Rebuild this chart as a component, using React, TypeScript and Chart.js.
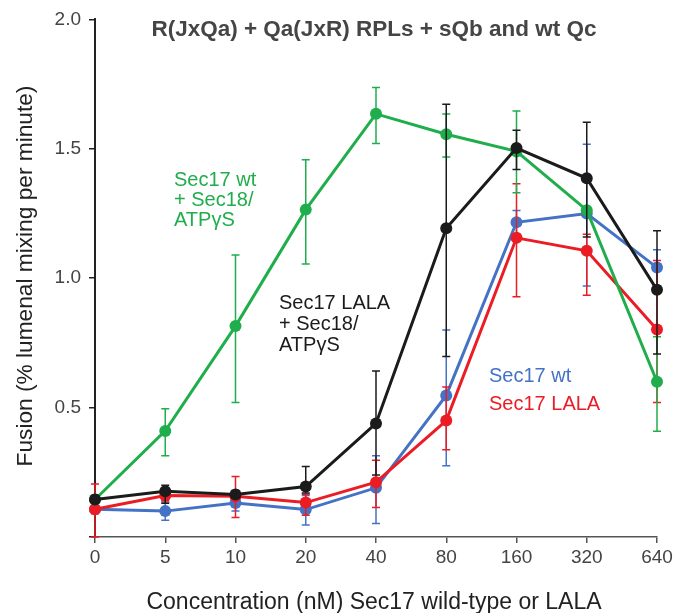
import React, { useEffect, useRef } from 'react';
import { Chart, registerables } from 'chart.js';

Chart.register(...registerables);

const categories = ['0', '5', '10', '20', '40', '80', '160', '320', '640'];

const greenValues = [0.145, 0.41, 0.815, 1.265, 1.635, 1.556, 1.49, 1.263, 0.6];
const greenHigh = [0.145, 0.496, 1.09, 1.458, 1.737, 1.634, 1.646, 1.263, 0.774];
const greenLow = [0.145, 0.314, 0.52, 1.055, 1.52, 1.468, 1.33, 1.263, 0.409];

const blackValues = [0.145, 0.177, 0.164, 0.195, 0.439, 1.193, 1.503, 1.386, 0.955];
const blackHigh = [0.16, 0.2, 0.18, 0.272, 0.641, 1.672, 1.572, 1.603, 1.183];
const blackLow = [0.13, 0.13, 0.15, 0.17, 0.24, 0.697, 1.42, 1.159, 0.707];

const blueValues = [0.107, 0.1, 0.131, 0.106, 0.19, 0.547, 1.216, 1.25, 1.041];
const blueHigh = [0.12, 0.135, 0.155, 0.16, 0.314, 0.8, 1.262, 1.518, 1.11];
const blueLow = [0.09, 0.065, 0.1, 0.046, 0.052, 0.275, 1.17, 0.97, 0.97];

const redValues = [0.107, 0.16, 0.157, 0.133, 0.212, 0.45, 1.156, 1.106, 0.802];
const redHigh = [0.205, 0.18, 0.234, 0.165, 0.297, 0.58, 1.365, 1.17, 1.068];
const redLow = [0.0, 0.14, 0.075, 0.084, 0.114, 0.337, 0.928, 0.934, 0.52];

const GREEN = '#1fae4b';
const BLACK = '#1b1b1b';
const BLUE = '#4472c4';
const RED = '#ec1c24';

const titleText = 'R(JxQa) + Qa(JxR) RPLs + sQb and wt Qc';
const xTitle = 'Concentration (nM) Sec17 wild-type or LALA';
const yTitle = 'Fusion (% lumenal mixing per minute)';

const FONT = '"Liberation Sans", Arial, Helvetica, sans-serif';

export default function App() {
  const ref = useRef<HTMLCanvasElement>(null);

  useEffect(() => {
    const canvas = ref.current;
    if (!canvas) return;

    const errorBars = {
      id: 'errorBars',
      beforeDatasetDraw(chart: any, args: any) {
        const ds = chart.data.datasets[args.index];
        if (!ds.errHigh) return;
        const meta = chart.getDatasetMeta(args.index);
        const y = chart.scales.y;
        const c = chart.ctx;
        c.save();
        c.strokeStyle = ds.errColor || ds.borderColor;
        c.lineWidth = 1.5;
        meta.data.forEach((pt: any, i: number) => {
          const hi = ds.errHigh[i];
          const lo = ds.errLow[i];
          if (hi === lo) return;
          const yh = y.getPixelForValue(hi);
          const yl = y.getPixelForValue(lo);
          const x = pt.x;
          c.beginPath();
          c.moveTo(x, yh);
          c.lineTo(x, yl);
          c.moveTo(x - 4, yh);
          c.lineTo(x + 4, yh);
          c.moveTo(x - 4, yl);
          c.lineTo(x + 4, yl);
          c.stroke();
        });
        c.restore();
      },
    };

    const texts = {
      id: 'texts',
      afterDraw(chart: any) {
        const c = chart.ctx;
        c.save();
        c.textBaseline = 'alphabetic';
        c.fillStyle = '#454545';
        c.font = `bold 22.5px ${FONT}`;
        c.textAlign = 'center';
        c.fillText(titleText, 374, 36);

        c.fillStyle = '#222';
        c.font = `23px ${FONT}`;
        c.fillText(xTitle, 374, 609);

        c.save();
        c.translate(32, 276);
        c.rotate(-Math.PI / 2);
        c.font = `22.7px ${FONT}`;
        c.fillText(yTitle, 0, 0);
        c.restore();

        c.textAlign = 'left';
        c.font = `20px ${FONT}`;
        c.fillStyle = GREEN;
        c.fillText('Sec17 wt', 174, 186);
        c.fillText('+ Sec18/', 174, 206);
        c.fillText('ATP\u03b3S', 174, 226);

        c.fillStyle = BLACK;
        c.fillText('Sec17 LALA', 279, 309);
        c.fillText('+ Sec18/', 279, 330);
        c.fillText('ATP\u03b3S', 279, 351);

        c.fillStyle = BLUE;
        c.fillText('Sec17 wt', 489, 382);
        c.fillStyle = RED;
        c.fillText('Sec17 LALA', 489, 410);
        c.restore();
      },
    };

    const mk = (label: string, data: number[], hi: number[], lo: number[], color: string, order: number) => ({
      label,
      data,
      errHigh: hi,
      errLow: lo,
      borderColor: color,
      backgroundColor: color,
      pointBackgroundColor: color,
      pointBorderColor: color,
      pointRadius: 6,
      pointBorderWidth: 0,
      borderWidth: 3,
      tension: 0,
      order,
    });

    const chart = new Chart(canvas, {
      type: 'line',
      data: {
        labels: categories,
        datasets: [
          mk('Sec17 wt', blueValues, blueHigh, blueLow, BLUE, 4),
          mk('Sec17 LALA', redValues, redHigh, redLow, RED, 3),
          mk('Sec17 wt + Sec18/ATPγS', greenValues, greenHigh, greenLow, GREEN, 2),
          mk('Sec17 LALA + Sec18/ATPγS', blackValues, blackHigh, blackLow, BLACK, 1),
        ] as any,
      },
      options: {
        responsive: false,
        animation: false,
        layout: { padding: { left: 0, top: 14, right: 30, bottom: 0 } },
        plugins: {
          legend: { display: false },
          title: { display: false },
          tooltip: { enabled: false },
        },
        scales: {
          x: {
            type: 'category',
            offset: false,
            grid: { display: true, drawOnChartArea: false, drawTicks: true, tickLength: 6, color: '#555', lineWidth: 1.5 },
            border: { display: true, color: '#555', width: 1.5 },
            ticks: { font: { size: 19, family: FONT }, color: '#444', padding: 3, autoSkip: false, maxRotation: 0 },
            afterFit: (s: any) => { s.height = 76; },
          },
          y: {
            min: 0,
            max: 2,
            grid: { display: true, drawOnChartArea: false, drawTicks: true, tickLength: 6, color: '#222', lineWidth: 1.5 },
            border: { display: true, color: '#222', width: 2 },
            ticks: {
              stepSize: 0.5,
              font: { size: 19, family: FONT },
              color: '#444',
              padding: 8,
              callback: (v: any) => (Number(v) === 0 ? '' : Number(v).toFixed(1)),
            },
            afterFit: (s: any) => { s.width = 95; },
          },
        },
      },
      plugins: [errorBars, texts],
    } as any);

    return () => chart.destroy();
  }, []);

  return (
    <div style={{ position: 'absolute', left: 0, top: 0, width: 687, height: 613, background: '#fff' }}>
      <canvas ref={ref} width={687} height={613} style={{ display: 'block' }} />
    </div>
  );
}
